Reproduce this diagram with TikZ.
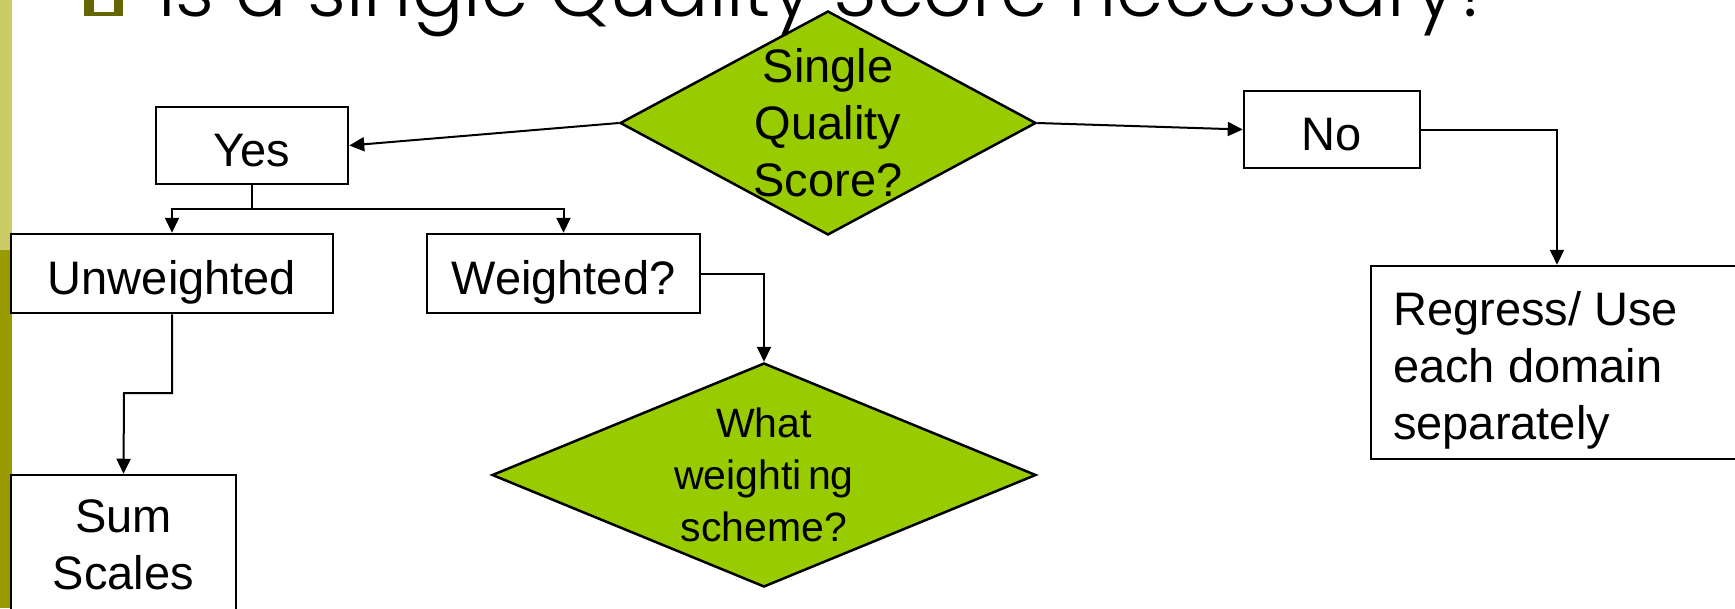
\documentclass[tikz,border=0pt]{standalone}
\usepackage{fontspec}
\usepackage{graphicx}
\setmainfont{Liberation Sans}
\newfontfamily\titlef{Poppins Light}
\usetikzlibrary{shapes.geometric,arrows.meta}
\definecolor{dgreen}{HTML}{99CC00}
\definecolor{barlight}{HTML}{CCCC66}
\definecolor{bardark}{HTML}{999900}
\definecolor{bulletcol}{HTML}{666600}
\begin{document}
\begin{tikzpicture}[x=1pt,y=-1pt,
  box/.style={draw, line width=2.5pt, rectangle, inner sep=0pt, align=center, font=\fontsize{47}{57}\selectfont},
  one/.style={text height=41pt, text depth=0pt},
  dia/.style={draw, line width=2.5pt, diamond, fill=dgreen, inner sep=0pt},
  conn/.style={line width=2pt},
  arr/.style={conn, -{Triangle[length=15pt,width=14pt]}},
  lbl/.style={inner sep=0pt, align=center, font=\fontsize{47}{57}\selectfont}]
\useasboundingbox (0,0) rectangle (1735,608);
\clip (0,0) rectangle (1735,608);
% left bar
\fill[barlight] (0,0) rectangle (12,250);
\fill[bardark] (0,250) rectangle (12,608);
% bullet
\fill[bulletcol] (84,-30) rectangle (123,16);
\fill[white] (94,-30) rectangle (114,12);
% diamonds
\node[dia, minimum width=416pt, minimum height=224pt] (d1) at (828,123) {};
\node[lbl] (d1t) at (828,123) {Single\\Quality\\Score?};
\node[dia, minimum width=544pt, minimum height=224pt] (d2) at (764,475) {};
\node[lbl, font=\fontsize{41}{52}\selectfont] (d2t) at (764,475) {What\\weighti\kern0.15em ng\\scheme?};
% boxes
\node[box, one, minimum width=192pt, minimum height=77pt] (yes) at (252,145.5) {Yes};
\node[box, one, minimum width=176pt, minimum height=77pt] (no) at (1332,129.5) {No};
\node[box, one, minimum width=322pt, minimum height=79pt] (unw) at (172,273.5) {Unweighted};
\node[box, one, minimum width=273pt, minimum height=79pt] (wtd) at (563.5,273.5) {Weighted?};
\node[box, minimum width=225pt, minimum height=140pt] (sum) at (123.5,545) {Sum\\Scales};
\node[box, minimum width=372pt, minimum height=193pt] (reg) at (1557,362.5) {};
\node[lbl, anchor=base west, align=left] (regt) at (1393,439) {Regress/ Use\\each domain\\separately};
% connectors
\draw[arr] (d1.west) -- (yes.east);
\draw[arr] (d1.east) -- (no.west);
\coordinate (ysplit) at (252,209);
\draw[conn] (yes.south) -- (ysplit);
\draw[arr] (ysplit) -| (unw.north);
\draw[arr] (ysplit) -| (wtd.north);
\draw[arr] (wtd.east) -| (d2.north);
\coordinate (ubend) at (124,393);
\draw[arr] (unw.south) |- (ubend) -- (sum.north);
\draw[arr] (no.east) -| (reg.north);
% title
\node[anchor=base west, inner sep=0pt] (title) at (158,16) {\resizebox{1337pt}{!}{\titlef Is a single Quality Score necessary?}};
\end{tikzpicture}
\end{document}
